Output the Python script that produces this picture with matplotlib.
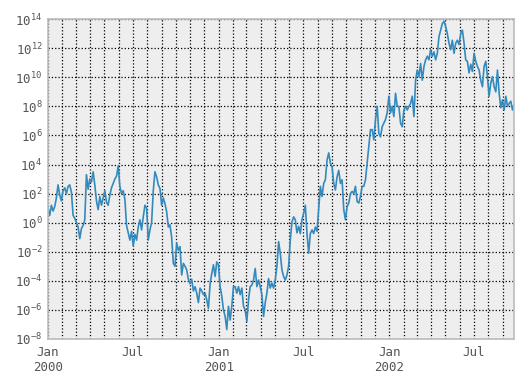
import matplotlib
matplotlib.use("Agg")
import matplotlib.pyplot as plt
import matplotlib.dates as mdates
import matplotlib.ticker as mticker
import numpy as np
import pandas as pd

# log10 of the series at even steps in time
log_a = [1.0, 0.5, 1.2, 0.8, 1.1, 1.7, 2.6, 1.9, 1.5, 2.2, 2.4, 2.0, 2.5, 2.6, 2.1,
         0.5, 0.3, 0.0, -0.3, -1.1, -0.4, -0.2, 0.2, 3.3, 2.3, 3.0, 2.8, 3.5, 2.6,
         1.5, 0.9, 1.8, 1.2, 1.7, 2.2, 1.4, 1.2, 1.9, 2.4, 2.7, 3.0, 3.2, 3.9, 2.5,
         2.0, 2.2, 1.6, -0.2, -0.7, -1.2, -0.6, -1.6, -0.8]
log_b = [-1.2, -0.3, 0.2, -0.5, 0.4, 1.2, 1.0, -1.2, -0.5, 0.0, 2.2, 3.5, 3.15,
         2.6, 2.35, 1.2, 1.7, 1.3, 0.75, -0.3, -0.15, -1.0, -2.8, -3.0, -1.4, -1.9,
         -1.65, -3.6, -2.8, -3.0, -3.25, -3.9, -4.2, -3.9, -4.7, -4.4, -4.85, -5.5,
         -4.5, -4.7, -4.95, -4.85, -5.3, -5.9, -4.2, -3.5, -2.9, -3.7, -2.7, -2.9, -4.4]
log_c = [-5.05, -6.0, -6.45, -7.35, -5.75, -6.7, -5.75, -4.4, -4.4, -4.85, -4.4,
         -4.95, -4.5, -5.75, -6.0, -6.8, -5.3, -4.4, -4.3, -3.95, -3.15, -4.4, -3.95,
         -4.4, -4.95, -6.45, -5.5, -4.85, -3.85, -4.5, -4.15, -4.5, -3.95, -3.0, -1.3,
         -2.1, -3.25, -3.7, -3.95, -3.6, -3.0, -1.2, 0.05, 0.4, 0.2, -0.7, -0.25]
log_d = [-0.75, 0.2, 0.65, 1.2, -0.75, -2.1, -0.75, -0.5, -0.75, -0.3, -0.6, 0.9,
         2.5, 1.8, 2.7, 2.95, 4.3, 4.8, 4.1, 3.85, 2.7, 2.25, 3.15, 3.6, 2.7, 2.95,
         0.9, 0.2, 1.1, 1.35, 2.0, 2.15, 2.0, 2.5, 1.45, 1.35, 1.8, 2.5, 2.5, 2.95,
         4.1, 5.25, 6.4, 6.4, 5.7, 7.1, 8.0, 6.15, 5.9, 6.6, 6.85, 7.1, 7.55, 8.7]
log_e = [7.55, 8.0, 7.3, 8.9, 8.0, 8.0, 6.85, 6.6, 7.75, 8.0, 7.75, 8.0, 8.2, 8.7,
         7.3, 9.8, 10.5, 10.05, 10.95, 9.8, 10.75, 11.2, 11.45, 11.2, 11.9, 11.45,
         11.75, 11.2, 11.65, 12.8, 13.25, 13.7, 13.85, 13.5, 13.0, 12.35, 11.9, 12.55,
         11.65, 12.35, 12.55, 12.25]
log_f = [13.0, 13.25, 12.35, 11.2, 11.1, 10.3, 10.9, 10.4, 11.65, 11.1, 10.75, 10.5,
         9.8, 9.35, 10.75, 11.1, 10.05, 8.7, 9.6, 10.05, 9.35, 9.0, 10.5, 8.9, 7.9,
         8.45, 7.75, 8.7, 8.0, 8.2, 8.35, 7.75, 8.1]

log_vals = np.array(log_a + log_b + log_c + log_d + log_e + log_f)
values = 10.0 ** log_vals
dates = pd.date_range("2000-01-01", "2002-09-26", periods=len(values))

plt.rcParams["font.family"] = ["DejaVu Sans Mono"]
plt.rcParams["font.size"] = 9

fig = plt.figure(figsize=(5.22, 3.83), dpi=100)
ax = fig.add_axes([0.092, 0.115, 0.893, 0.835])
ax.set_facecolor("#eeeeee")
for s in ax.spines.values():
    s.set_color("#bcbcbc")
    s.set_linewidth(1.2)

ax.plot(dates, values, color="#348ABD", lw=1.2)
ax.set_yscale("log")
ax.set_ylim(1e-8, 1e14)
ax.set_xlim(dates[0], dates[-1])

ax.yaxis.set_major_locator(mticker.FixedLocator(10.0 ** np.arange(-8, 15, 2)))
ax.yaxis.set_minor_locator(mticker.NullLocator())

ax.xaxis.set_major_locator(mdates.MonthLocator(bymonth=[1, 7]))
ax.xaxis.set_minor_locator(mdates.MonthLocator())

def fmt(x, pos):
    d = mdates.num2date(x)
    return d.strftime("%b\n%Y") if d.month == 1 else d.strftime("%b")

ax.xaxis.set_major_formatter(mticker.FuncFormatter(fmt))

ax.grid(True, which="both", color="black", linestyle=":", linewidth=0.9)
ax.set_axisbelow(True)
ax.tick_params(which="both", length=0, colors="#555555", labelsize=9)
ax.tick_params(axis="x", pad=5)
ax.tick_params(axis="y", pad=4)

fig.savefig("out.png", dpi=100)
